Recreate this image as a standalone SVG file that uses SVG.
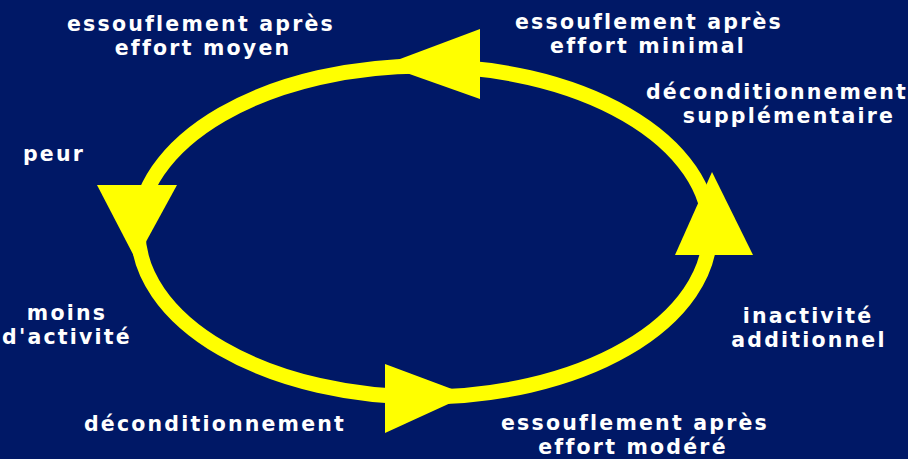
<svg xmlns="http://www.w3.org/2000/svg" width="908" height="459" viewBox="0 0 908 459">
<style>
.lbl{font-family:"DejaVu Sans","Liberation Sans",sans-serif;font-weight:bold;font-size:20.5px;letter-spacing:2.2px;fill:#ffffff;text-anchor:middle}
.ring{fill:none;stroke:#ffff00;stroke-width:15}
.head{fill:#ffff00}
</style>
<rect x="0" y="0" width="908" height="459" fill="#001866"/>
<g id="connectors">
<ellipse class="ring" cx="424" cy="231.5" rx="286" ry="165.5"/>
<polygon class="head" points="384,65 480,29 480,99"/>
<polygon class="head" points="97,185 177,185 136,260"/>
<polygon class="head" points="385,364 385,433 468,395"/>
<polygon class="head" points="675,255 753,255 712,172"/>
</g>
<g id="n1"><text class="lbl" x="201" y="31">essouflement après</text><text class="lbl" x="203" y="55">effort moyen</text></g>
<g id="n2"><text class="lbl" x="649" y="29">essouflement après</text><text class="lbl" x="648" y="53">effort minimal</text></g>
<g id="n3"><text class="lbl" x="777" y="99">déconditionnement</text><text class="lbl" x="789" y="123">supplémentaire</text></g>
<g id="n4"><text class="lbl" x="54" y="161">peur</text></g>
<g id="n5"><text class="lbl" x="67" y="320">moins</text><text class="lbl" x="67" y="344">d'activité</text></g>
<g id="n6"><text class="lbl" x="215" y="431">déconditionnement</text></g>
<g id="n7"><text class="lbl" x="808" y="323">inactivité</text><text class="lbl" x="809" y="347">additionnel</text></g>
<g id="n8"><text class="lbl" x="635" y="430">essouflement après</text><text class="lbl" x="633" y="454">effort modéré</text></g>
</svg>
